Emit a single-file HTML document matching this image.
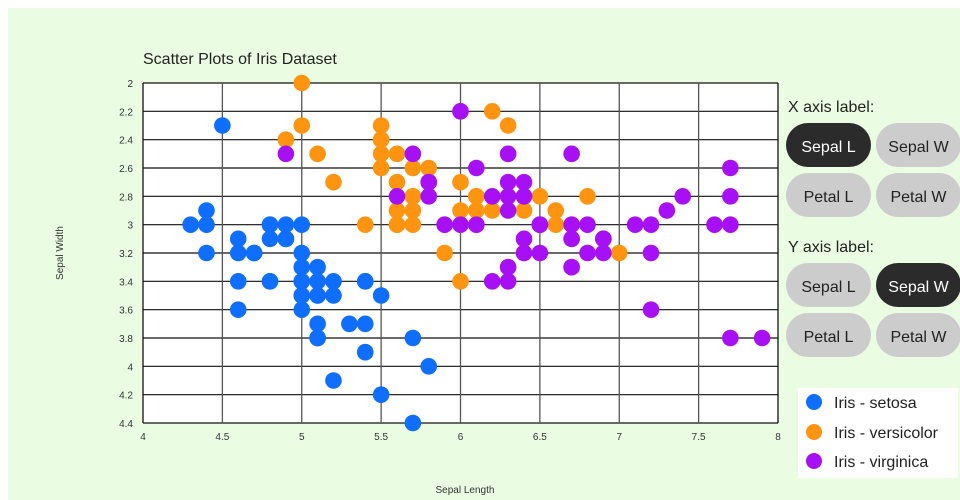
<!DOCTYPE html>
<html><head><meta charset="utf-8"><style>
html,body{margin:0;padding:0;background:#fff;}
body{width:960px;height:500px;position:relative;overflow:hidden;font-family:"Liberation Sans","DejaVu Sans",sans-serif;}
#bg{position:absolute;left:8px;top:8px;width:952px;height:492px;background:#eafde2;}
.lbl{position:absolute;font-size:16px;color:#222;}
.btn{position:absolute;width:85px;height:44px;border-radius:22px;background:#cccccc;color:#222;font-size:16px;line-height:50px;text-align:center;box-sizing:border-box;}
.btn.on{background:#2b2b2b;color:#fff;}
#legend{position:absolute;left:798px;top:388px;width:160px;height:90px;background:#fff;}
.li{position:absolute;left:8px;font-size:16px;color:#222;}
.li i{display:inline-block;width:16px;height:16px;border-radius:50%;vertical-align:-2px;margin-right:12px;}
</style></head><body>
<div id="bg"></div>
<svg id="chart" width="960" height="500" style="position:absolute;left:0;top:0" font-family="Liberation Sans, DejaVu Sans, sans-serif"></svg>
<div class="lbl" style="left:788px;top:99px">X axis label:</div>
<div class="btn on" style="left:786px;top:123px">Sepal L</div>
<div class="btn" style="left:876px;top:123px">Sepal W</div>
<div class="btn" style="left:786px;top:173px">Petal L</div>
<div class="btn" style="left:876px;top:173px">Petal W</div>
<div class="lbl" style="left:788px;top:239px">Y axis label:</div>
<div class="btn" style="left:786px;top:263px">Sepal L</div>
<div class="btn on" style="left:876px;top:263px">Sepal W</div>
<div class="btn" style="left:786px;top:313px">Petal L</div>
<div class="btn" style="left:876px;top:313px">Petal W</div>
<div id="legend">
<div class="li" style="top:6px"><i style="background:#0f6efd"></i>Iris - setosa</div>
<div class="li" style="top:36px"><i style="background:#ff9410"></i>Iris - versicolor</div>
<div class="li" style="top:65px"><i style="background:#a710f5"></i>Iris - virginica</div>
</div>
<script>
var s="5.1,3.5;4.9,3.0;4.7,3.2;4.6,3.1;5.0,3.6;5.4,3.9;4.6,3.4;5.0,3.4;4.4,2.9;4.9,3.1;5.4,3.7;4.8,3.4;4.8,3.0;4.3,3.0;5.8,4.0;5.7,4.4;5.4,3.9;5.1,3.5;5.7,3.8;5.1,3.8;5.4,3.4;5.1,3.7;4.6,3.6;5.1,3.3;4.8,3.4;5.0,3.0;5.0,3.4;5.2,3.5;5.2,3.4;4.7,3.2;4.8,3.1;5.4,3.4;5.2,4.1;5.5,4.2;4.9,3.1;5.0,3.2;5.5,3.5;4.9,3.1;4.4,3.0;5.1,3.4;5.0,3.5;4.5,2.3;4.4,3.2;5.0,3.5;5.1,3.8;4.8,3.0;5.1,3.8;4.6,3.2;5.3,3.7;5.0,3.3";
var v="7.0,3.2;6.4,3.2;6.9,3.1;5.5,2.3;6.5,2.8;5.7,2.8;6.3,3.3;4.9,2.4;6.6,2.9;5.2,2.7;5.0,2.0;5.9,3.0;6.0,2.2;6.1,2.9;5.6,2.9;6.7,3.1;5.6,3.0;5.8,2.7;6.2,2.2;5.6,2.5;5.9,3.2;6.1,2.8;6.3,2.5;6.1,2.8;6.4,2.9;6.6,3.0;6.8,2.8;6.7,3.0;6.0,2.9;5.7,2.6;5.5,2.4;5.5,2.4;5.8,2.7;6.0,2.7;5.4,3.0;6.0,3.4;6.7,3.1;6.3,2.3;5.6,3.0;5.5,2.5;5.5,2.6;6.1,3.0;5.8,2.6;5.0,2.3;5.6,2.7;5.7,3.0;5.7,2.9;6.2,2.9;5.1,2.5;5.7,2.8";
var g="6.3,3.3;5.8,2.7;7.1,3.0;6.3,2.9;6.5,3.0;7.6,3.0;4.9,2.5;7.3,2.9;6.7,2.5;7.2,3.6;6.5,3.2;6.4,2.7;6.8,3.0;5.7,2.5;5.8,2.8;6.4,3.2;6.5,3.0;7.7,3.8;7.7,2.6;6.0,2.2;6.9,3.2;5.6,2.8;7.7,2.8;6.3,2.7;6.7,3.3;7.2,3.2;6.2,2.8;6.1,3.0;6.4,2.8;7.2,3.0;7.4,2.8;7.9,3.8;6.4,2.8;6.3,2.8;6.1,2.6;7.7,3.0;6.3,3.4;6.4,3.1;6.0,3.0;6.9,3.1;6.7,3.1;6.9,3.1;5.8,2.7;6.8,3.2;6.7,3.3;6.7,3.0;6.3,2.5;6.5,3.0;6.2,3.4;5.9,3.0";
var L=143,R=778,T=83,B=423;
function X(x){return L+(x-4)*(R-L)/4;}
function Y(y){return T+(y-2)*(B-T)/2.4;}
var h='<rect x="'+L+'" y="'+T+'" width="'+(R-L)+'" height="'+(B-T)+'" fill="#fff"/>';
h+='<text x="143" y="64" font-size="16" fill="#222">Scatter Plots of Iris Dataset</text>';
for(var i=0;i<=12;i++){var y=Y(2+i*0.2);h+='<line x1="'+L+'" x2="'+R+'" y1="'+y+'" y2="'+y+'" stroke="#111" stroke-width="1.2"/>';
h+='<text x="133" y="'+(y+4)+'" font-size="10" text-anchor="end" fill="#333">'+(+(2+i*0.2).toFixed(1))+'</text>';}
for(var i=0;i<=8;i++){var x=X(4+i*0.5);h+='<line x1="'+x+'" x2="'+x+'" y1="'+T+'" y2="'+B+'" stroke="'+(i==0||i==8?'#111':'#555')+'" stroke-width="1.3"/>';
h+='<text x="'+x+'" y="440" font-size="10" text-anchor="middle" fill="#333">'+(4+i*0.5)+'</text>';}
h+='<text x="465" y="493" font-size="10" text-anchor="middle" fill="#333">Sepal Length</text>';
h+='<text transform="translate(63,253) rotate(-90)" font-size="10" text-anchor="middle" fill="#333">Sepal Width</text>';
[[s,"#0f6efd"],[v,"#ff9410"],[g,"#a710f5"]].forEach(function(p){p[0].split(";").forEach(function(q){var a=q.split(",");h+='<circle cx="'+X(+a[0])+'" cy="'+Y(+a[1])+'" r="8.3" fill="'+p[1]+'"/>';});});
document.getElementById("chart").innerHTML=h;
</script>
</body></html>
